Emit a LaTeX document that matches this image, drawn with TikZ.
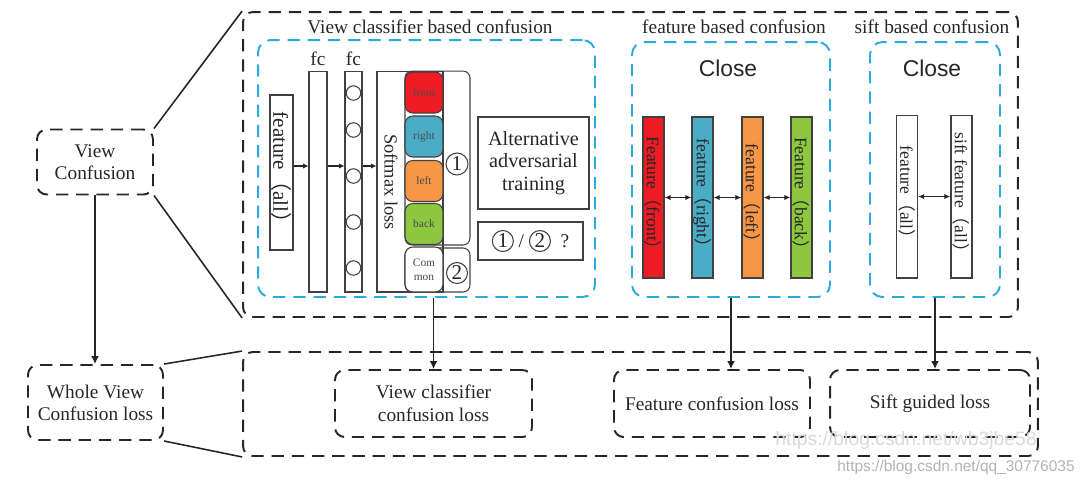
\documentclass[tikz,border=0pt]{standalone}
\usepackage{fontspec}
\setmainfont{Liberation Serif}
\newfontfamily\cjk{Noto Sans CJK SC}
\newfontfamily\sansfam{Liberation Sans}
\usetikzlibrary{arrows.meta}
\definecolor{dashblue}{HTML}{29ABE2}
\definecolor{fred}{HTML}{ED1C24}
\definecolor{fblue}{HTML}{4BACC6}
\definecolor{forange}{HTML}{F79646}
\definecolor{fgreen}{HTML}{8DC63F}
\newcommand{\lp}{{\cjk （}}
\newcommand{\rp}{{\cjk ）}}
\newcommand{\cnum}[1]{\tikz[baseline=(cn.base)]\node[circle, draw=black!75, line width=0.6pt, inner sep=0pt, minimum size=0.42cm, font=\fontsize{12}{12}\selectfont] (cn) {#1};}

\begin{document}
\begin{tikzpicture}[x=0.02cm, y=-0.02cm, % פיקסלים, ציר y כלפי מטה
    every node/.style={font=\fontsize{11}{12.5}\selectfont, text=black!85},
    bdash/.style={draw=black!85, line width=1.1pt, dash pattern=on 7pt off 4.5pt, rounded corners=5.5pt},
    cdash/.style={draw=dashblue, line width=1.1pt, dash pattern=on 7pt off 4.5pt, rounded corners=7pt},
    thinbox/.style={draw=black!75, line width=0.6pt},
    viewcell/.style={thinbox, rounded corners=4.5pt, minimum width=0.76cm, minimum height=0.82cm, inner sep=0pt, font=\fontsize{6.5}{8}\selectfont, text=black!70, align=center},
    featbar/.style={thinbox, minimum width=0.42cm, minimum height=3.22cm, inner sep=0pt},
    vtext/.style={rotate=-90, font=\fontsize{10}{10}\selectfont},
    closelbl/.style={font=\sansfam\fontsize{13}{13}\selectfont},
    downarrow/.style={-{Latex[length=4.5pt,width=4.5pt]}, line width=0.9pt, draw=black!85},
    pairarrow/.style={{Latex[length=3.5pt,width=3pt]}-{Latex[length=3.5pt,width=3pt]}, line width=0.8pt, draw=black!85},
    smallarrow/.style={-{Latex[length=3pt,width=3pt]}, line width=0.6pt, draw=black!85}]
  \useasboundingbox (0,0) rectangle (1084,485);

  % צד שמאל
  \node[bdash, minimum width=2.32cm, minimum height=1.3cm, align=center] (vc) at (95,162) {View\\Confusion};
  \node[bdash, minimum width=2.7cm, minimum height=1.5cm, align=center] (wvc) at (95.5,402.5) {Whole View\\Confusion loss};
  \draw[downarrow] (vc.south) -- (vc.south |- wvc.north);

  % מסגרות גדולות
  \node[bdash, minimum width=15.5cm, minimum height=6.1cm] (top) at (630.5,164.5) {};
  \node[bdash, minimum width=15.9cm, minimum height=2.08cm] (bot) at (640.5,404) {};
  \draw[line width=0.9pt, black!85] (vc.north east) -- (top.north west);
  \draw[line width=0.9pt, black!85] (vc.south east) -- (top.south west);
  \draw[line width=0.9pt, black!85] (wvc.north east) -- (bot.north west);
  \draw[line width=0.9pt, black!85] (wvc.south east) -- (bot.south west);

  % שלוש קבוצות כחולות
  \node[cdash, minimum width=6.74cm, minimum height=5.14cm] (vcb) at (426.5,168.5) {};
  \node[cdash, minimum width=3.96cm, minimum height=5.1cm] (fcb) at (731,169.5) {};
  \node[cdash, minimum width=2.6cm, minimum height=5.1cm] (scb) at (935,169.5) {};
  \node (vct) at (430,27) {View classifier based confusion};
  \node (fct) at (734,27) {feature based confusion};
  \node (sct) at (932,27) {sift based confusion};

  % מסווג
  \node[thinbox, minimum width=0.46cm, minimum height=3.1cm, inner sep=0pt] (fall) at (281.5,172.5) {};
  \node[vtext, font=\fontsize{12}{12}\selectfont] (fallt) at (fall) {feature\lp all\rp};
  \node[thinbox, minimum width=0.36cm, minimum height=4.42cm, inner sep=0pt] (fc1) at (318,181.5) {};
  \node[thinbox, minimum width=0.34cm, minimum height=4.42cm, inner sep=0pt] (fc2) at (353.5,181.5) {};
  \node (fc1t) at (318,59) {fc};
  \node (fc2t) at (353.5,59) {fc};
  \node[circle, thinbox, fill=white, minimum size=0.29cm, inner sep=0pt] (n1) at (353.5,93) {};
  \node[circle, thinbox, fill=white, minimum size=0.29cm, inner sep=0pt] (n2) at (353.5,130) {};
  \node[circle, thinbox, fill=white, minimum size=0.29cm, inner sep=0pt] (n3) at (353.5,176) {};
  \node[circle, thinbox, fill=white, minimum size=0.29cm, inner sep=0pt] (n4) at (353.5,222) {};
  \node[circle, thinbox, fill=white, minimum size=0.29cm, inner sep=0pt] (n5) at (353.5,268) {};
  \node[thinbox, minimum width=1.32cm, minimum height=4.42cm, inner sep=0pt] (smx) at (410,181.5) {};
  \node[thinbox, rounded corners=4pt, minimum width=1.3cm, minimum height=3.48cm] (g1) at (437.5,158) {};
  \node[thinbox, rounded corners=4pt, minimum width=1.3cm, minimum height=0.88cm] (g2) at (437.5,270) {};
  \node[rotate=-90, font=\fontsize{10.5}{10.5}\selectfont] (smxt) at (391,182) {Softmax loss};
  \coordinate (row) at (0,166);
  \draw[smallarrow] (fall.east |- row) -- (fc1.west |- row);
  \draw[smallarrow] (fc1.east |- row) -- (fc2.west |- row);
  \draw[smallarrow] (fc2.east |- row) -- (smx.west |- row);

  % תאי כיוון
  \node[viewcell, fill=fred] (vfront) at (424,92.5) {front};
  \node[viewcell, fill=fblue] (vright) at (424,136.5) {right};
  \node[viewcell, fill=forange] (vleft) at (424,181) {left};
  \node[viewcell, fill=fgreen] (vback) at (424,224) {back};
  \node[viewcell, fill=white, minimum height=0.9cm] (vcom) at (424,269.5) {Com\\mon};
  \node[circle, thinbox, minimum size=0.44cm, inner sep=0pt, font=\fontsize{12}{12}\selectfont] (c1) at (457,164) {1};
  \node[circle, thinbox, minimum size=0.42cm, inner sep=0pt, font=\fontsize{12}{12}\selectfont] (c2) at (457,273) {2};
  \node[thinbox, minimum width=2.22cm, minimum height=1.84cm, align=center, font=\fontsize{11.5}{13}\selectfont] (alt) at (533.5,163) {Alternative\\adversarial\\training};
  \node[thinbox, minimum width=2.1cm, minimum height=0.76cm] (pick) at (530.5,241) {\cnum{1} / \cnum{2} \ ?};

  % פיצ'רים
  \node[closelbl] (fclose) at (728,68) {Close};
  \node[featbar, fill=fred] (ffront) at (653.5,197.5) {};
  \node[featbar, fill=fblue] (fright) at (702.5,197.5) {};
  \node[featbar, fill=forange] (fleft) at (752.5,197.5) {};
  \node[featbar, fill=fgreen] (fback) at (801.5,197.5) {};
  \node[vtext] (ffrontt) at (ffront) {Feature\lp front\rp};
  \node[vtext] (frightt) at (fright) {feature\lp right\rp};
  \node[vtext] (fleftt) at (fleft) {feature\lp left\rp};
  \node[vtext] (fbackt) at (fback) {Feature\lp back\rp};
  \draw[pairarrow] (ffront.east) -- (fright.west);
  \draw[pairarrow] (fright.east) -- (fleft.west);
  \draw[pairarrow] (fleft.east) -- (fback.west);

  % sift
  \node[closelbl] (sclose) at (932,68) {Close};
  \node[featbar, minimum height=3.26cm] (sall) at (907,196.5) {};
  \node[featbar, minimum height=3.26cm] (ssift) at (961.5,196.5) {};
  \node[vtext] (sallt) at (sall) {feature\lp all\rp};
  \node[vtext] (ssiftt) at (ssift) {sift feature\lp all\rp};
  \draw[pairarrow] (sall) -- (ssift);

  % הפסדים
  \node[bdash, minimum width=3.94cm, minimum height=1.34cm, align=center, font=\fontsize{11}{13}\selectfont] (l1) at (433.5,403.5) {View classifier\\confusion loss};
  \node[bdash, minimum width=3.92cm, minimum height=1.34cm] (l2) at (712,403.5) {Feature confusion loss};
  \node[bdash, minimum width=4.0cm, minimum height=1.34cm] (l3) at (930,403.5) {Sift guided loss};
  \draw[downarrow] (l1.north |- vcb.south) -- (l1.north);
  \draw[downarrow] (fcb.south) -- (fcb.south |- l2.north);
  \draw[downarrow] (scb.south) -- (scb.south |- l3.north);

  % סימני מים
  \node[text=black!15, font=\sansfam\fontsize{11}{11}\selectfont] (wm2) at (906,440) {https://blog.csdn.net/wb3jbe58};
  \node[text=black!30, font=\sansfam\fontsize{8.8}{9}\selectfont] (wm1) at (956,467) {https://blog.csdn.net/qq\_30776035};
\end{tikzpicture}
\end{document}
